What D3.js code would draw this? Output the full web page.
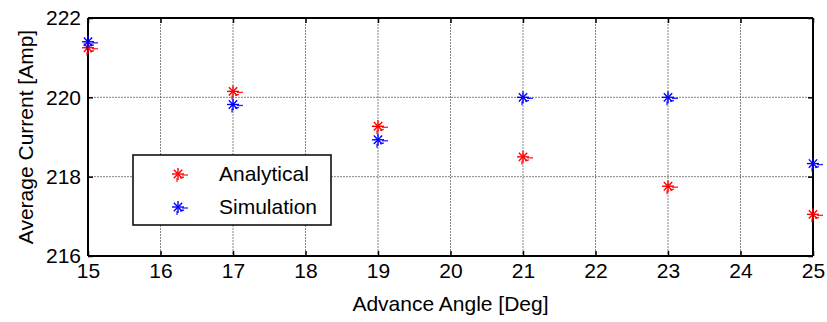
<!DOCTYPE html>
<html><head><meta charset="utf-8">
<script src="https://cdn.jsdelivr.net/npm/d3@7"></script>
<style>body{margin:0;background:#fff}svg{font-family:"Liberation Sans",Arial,sans-serif}</style>
</head><body><svg id="c" width="827" height="322"></svg>
<script>
const angles = [15, 17, 19, 21, 23, 25];
const analytical = [221.25, 220.15, 219.27, 218.5, 217.76, 217.05];
const simulation = [221.4, 219.82, 218.93, 220.0, 220.0, 218.33];
const xTicks = [15,16,17,18,19,20,21,22,23,24,25];
const yTicks = [216,218,220,222];
const seriesNames = ["Analytical","Simulation"];
const seriesColors = ["#ff0000","#0000ff"];

const svg = d3.select("#c");
const L=88, R=813, T=18, B=256;
const FS=21;
const x = d3.scaleLinear().domain([15,25]).range([L,R]);
const y = d3.scaleLinear().domain([216,222]).range([B,T]);

// grid
const g = svg.append("g");
g.selectAll(".gx").data(xTicks.slice(1,-1)).join("line")
 .attr("x1",d=>x(d)).attr("x2",d=>x(d)).attr("y1",T).attr("y2",B)
 .attr("stroke","#555").attr("stroke-width",1).attr("stroke-dasharray","2,1").attr("opacity",0.7);
g.selectAll(".gy").data(yTicks.slice(1,-1)).join("line")
 .attr("y1",d=>y(d)).attr("y2",d=>y(d)).attr("x1",L).attr("x2",R)
 .attr("stroke","#555").attr("stroke-width",1).attr("stroke-dasharray","2,1").attr("opacity",0.7);

// axes
const ax = svg.append("g").attr("transform",`translate(0,${B})`)
 .call(d3.axisBottom(x).tickValues(xTicks).tickSize(-5).tickPadding(9).tickFormat(d3.format("d")));
const axT = svg.append("g").attr("transform",`translate(0,${T})`)
 .call(d3.axisTop(x).tickValues(xTicks).tickSize(-5).tickFormat(""));
const ay = svg.append("g").attr("transform",`translate(${L},0)`)
 .call(d3.axisLeft(y).tickValues(yTicks).tickSize(-5).tickPadding(7).tickFormat(d3.format("d")));
const ayR = svg.append("g").attr("transform",`translate(${R},0)`)
 .call(d3.axisRight(y).tickValues(yTicks).tickSize(-5).tickFormat(""));
[ax,axT,ay,ayR].forEach(a=>{
  a.select(".domain").attr("stroke","#000").attr("stroke-width",2);
  a.selectAll(".tick line").attr("stroke","#000").attr("stroke-width",1.5);
  a.selectAll(".tick text").attr("fill","#000").attr("font-size",FS).attr("font-family","Liberation Sans, Arial, sans-serif");
});
ax.selectAll(".tick text").attr("dy","0.6em");
ax.select(".domain").attr("d",`M${L},0H${R}`);
axT.select(".domain").attr("d",`M${L},0H${R}`);
ay.select(".domain").attr("d",`M0,${T}V${B}`);
ayR.select(".domain").attr("d",`M0,${T}V${B}`);

// axis labels
svg.append("text").attr("x",(L+R)/2).attr("y",311).attr("text-anchor","middle")
 .attr("font-size",FS).text("Advance Angle [Deg]");
svg.append("text").attr("transform",`translate(33,${(T+B)/2}) rotate(-90)`).attr("text-anchor","middle")
 .attr("font-size",FS).text("Average Current [Amp]");

function star(sel, cx, cy, color){
  const r=6;
  const gg = sel.append("g").attr("stroke",color).attr("stroke-width",1.4);
  const segs=[[-r,0,r,0],[0,-r,0,r],[-r*0.7,-r*0.7,r*0.7,r*0.7],[-r*0.7,r*0.7,r*0.7,-r*0.7]];
  segs.forEach(s=>gg.append("line").attr("x1",cx+s[0]).attr("y1",cy+s[1]).attr("x2",cx+s[2]).attr("y2",cy+s[3]));
  const g2 = sel.append("g").attr("stroke",color).attr("stroke-width",1.3).attr("opacity",0.85);
  g2.append("line").attr("x1",cx+4).attr("y1",cy+1).attr("x2",cx+10).attr("y2",cy+1);
  g2.append("line").attr("x1",cx-1).attr("y1",cy+4).attr("x2",cx-1).attr("y2",cy+8);
  g2.append("line").attr("x1",cx+2).attr("y1",cy+4).attr("x2",cx+6).attr("y2",cy+3);
}

const data = [analytical, simulation];
data.forEach((vals,i)=>{
  const gp = svg.append("g");
  vals.forEach((v,j)=>star(gp, x(angles[j]), y(v), seriesColors[i]));
});

// legend
const lg = svg.append("g");
lg.append("rect").attr("x",133).attr("y",155).attr("width",198).attr("height",70)
 .attr("fill","#fff").attr("stroke","#000").attr("stroke-width",1.5);
seriesNames.forEach((n,i)=>{
  const yy = 174 + i*33;
  star(lg, 178, yy, seriesColors[i]);
  lg.append("text").attr("x",219).attr("y",yy+7).attr("font-size",FS).text(n);
});
</script></body></html>
